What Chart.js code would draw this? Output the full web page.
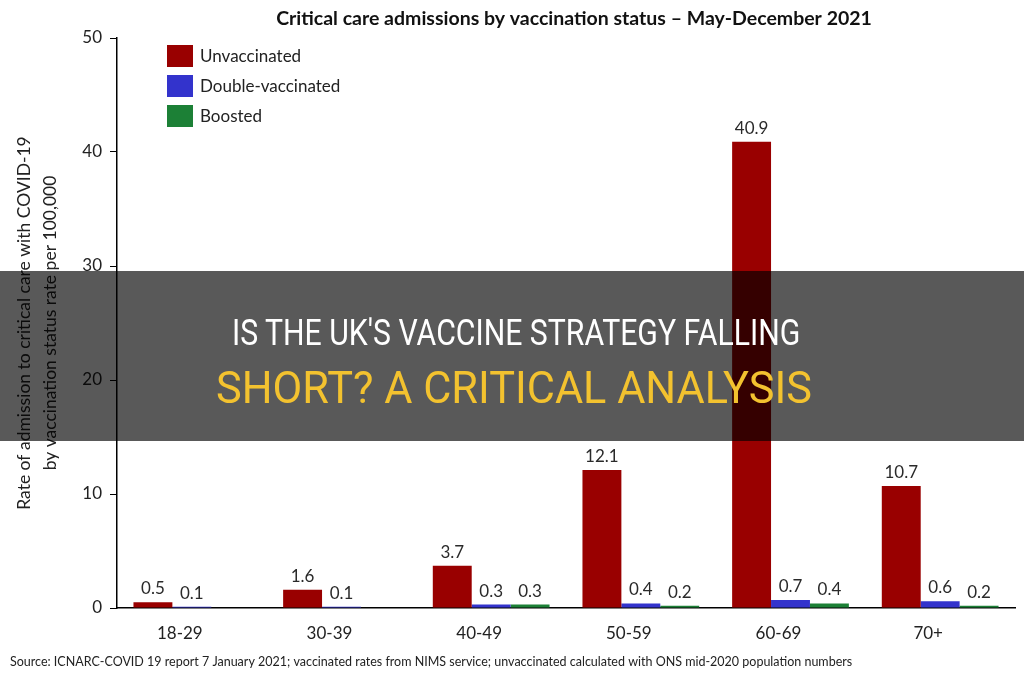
<!DOCTYPE html>
<html>
<head>
<meta charset="utf-8">
<script src="https://cdn.jsdelivr.net/npm/chart.js@4"></script>
<style>
  html, body { margin: 0; padding: 0; background: #fff; }
  #wrap { position: relative; width: 1024px; height: 680px; overflow: hidden; }
  #banner {
    position: absolute; left: 0; top: 271px; width: 1024px; height: 170px;
    background: rgba(0, 0, 0, 0.65);
  }
  .line {
    position: absolute; left: 0; white-space: nowrap;
    font-family: Roboto, "Liberation Sans", sans-serif; transform-origin: 0 0;
  }
  #line1 { color: #ffffff; font-size: 37px; }
  #line2 { color: #f3c22f; font-size: 45px; }
</style>
</head>
<body>
<div id="wrap">
  <canvas id="chart" width="1024" height="680"></canvas>
  <div id="banner">
    <span class="line" id="line1">IS THE UK'S VACCINE STRATEGY FALLING</span>
    <span class="line" id="line2">SHORT? A CRITICAL ANALYSIS</span>
  </div>
</div>
<script>
// Chart data
var ageGroups = ["18-29", "30-39", "40-49", "50-59", "60-69", "70+"];
var unvaccinated = [0.5, 1.6, 3.7, 12.1, 40.9, 10.7];
var doubleVaccinated = [0.1, 0.1, 0.3, 0.4, 0.7, 0.6];
var boosted = [null, null, 0.3, 0.2, 0.4, 0.2];
var yTicks = [0, 10, 20, 30, 40, 50];

var textFont = "Lato, 'Open Sans', sans-serif";

// Fit the banner lines to the widths in the picture
function fitLine(id, left, top, width) {
    var el = document.getElementById(id);
    var s = width / el.offsetWidth;
    el.style.left = left + 'px';
    el.style.top = top + 'px';
    el.style.transform = 'scaleX(' + s + ')';
}
fitLine('line1', 232, 40, 568);
fitLine('line2', 216, 90, 596);

// Title, legend, source line and value labels
var extras = {
    id: 'extras',
    afterDatasetsDraw: function(chart) {
        var ctx = chart.ctx;
        ctx.save();

        // value labels above each bar
        ctx.fillStyle = '#2a2a2a';
        ctx.font = '17px ' + textFont;
        ctx.textAlign = 'center';
        ctx.textBaseline = 'bottom';
        chart.data.datasets.forEach(function(ds, i) {
            var meta = chart.getDatasetMeta(i);
            meta.data.forEach(function(bar, j) {
                var v = ds.data[j];
                if (v === null) return;
                ctx.fillText(v.toFixed(1), bar.x, bar.y - 5);
            });
        });

        // title
        ctx.fillStyle = '#111';
        ctx.font = 'bold 19.5px ' + textFont;
        ctx.textBaseline = 'middle';
        ctx.fillText('Critical care admissions by vaccination status \u2013 May-December 2021', 574, 19);

        // legend
        ctx.textAlign = 'left';
        ctx.font = '17px ' + textFont;
        chart.data.datasets.forEach(function(ds, i) {
            var y = 45 + i * 30;
            ctx.fillStyle = ds.backgroundColor;
            ctx.fillRect(167, y, 26, 22);
            ctx.fillStyle = '#222';
            ctx.fillText(ds.label, 200, y + 12);
        });

        // source
        ctx.font = '12.5px ' + textFont;
        ctx.fillStyle = '#222';
        ctx.fillText('Source: ICNARC-COVID 19 report 7 January 2021; vaccinated rates from NIMS service; unvaccinated calculated with ONS mid-2020 population numbers', 10, 662);

        ctx.restore();
    }
};

var ctx = document.getElementById('chart').getContext('2d');
var myChart = new Chart(ctx, {
    type: 'bar',
    data: {
        labels: ageGroups,
        datasets: [
            { label: 'Unvaccinated', data: unvaccinated, backgroundColor: '#990000' },
            { label: 'Double-vaccinated', data: doubleVaccinated, backgroundColor: '#3333cc' },
            { label: 'Boosted', data: boosted, backgroundColor: '#1c8036' }
        ]
    },
    options: {
        responsive: false,
        animation: false,
        layout: { padding: { top: 38, right: 9, left: 12, bottom: 0 } },
        datasets: {
            bar: { categoryPercentage: 0.78, barPercentage: 1.0 }
        },
        scales: {
            x: {
                grid: { display: false },
                border: { color: '#000', width: 1.5 },
                ticks: {
                    color: '#222',
                    font: { family: textFont, size: 17 },
                    padding: 7,
                    labelOffset: -12
                },
                afterFit: function(scale) { scale.height = 72; }
            },
            y: {
                min: 0,
                max: 50,
                afterBuildTicks: function(scale) {
                    scale.ticks = yTicks.map(function(v) { return { value: v }; });
                },
                grid: { drawOnChartArea: false, drawTicks: true, tickLength: 7, color: '#000' },
                border: { color: '#000', width: 1.5 },
                ticks: {
                    color: '#222',
                    font: { family: textFont, size: 17 },
                    padding: 8
                },
                title: {
                    display: true,
                    text: ['Rate of admission to critical care with COVID-19', 'by vaccination status rate per 100,000'],
                    color: '#222',
                    font: { family: textFont, size: 17.5, lineHeight: 1.45 },
                    padding: { top: 0, bottom: 0 }
                },
                afterFit: function(scale) { scale.width = 105; }
            }
        },
        plugins: {
            legend: { display: false },
            tooltip: { enabled: false }
        }
    },
    plugins: [extras]
});
</script>
</body>
</html>
